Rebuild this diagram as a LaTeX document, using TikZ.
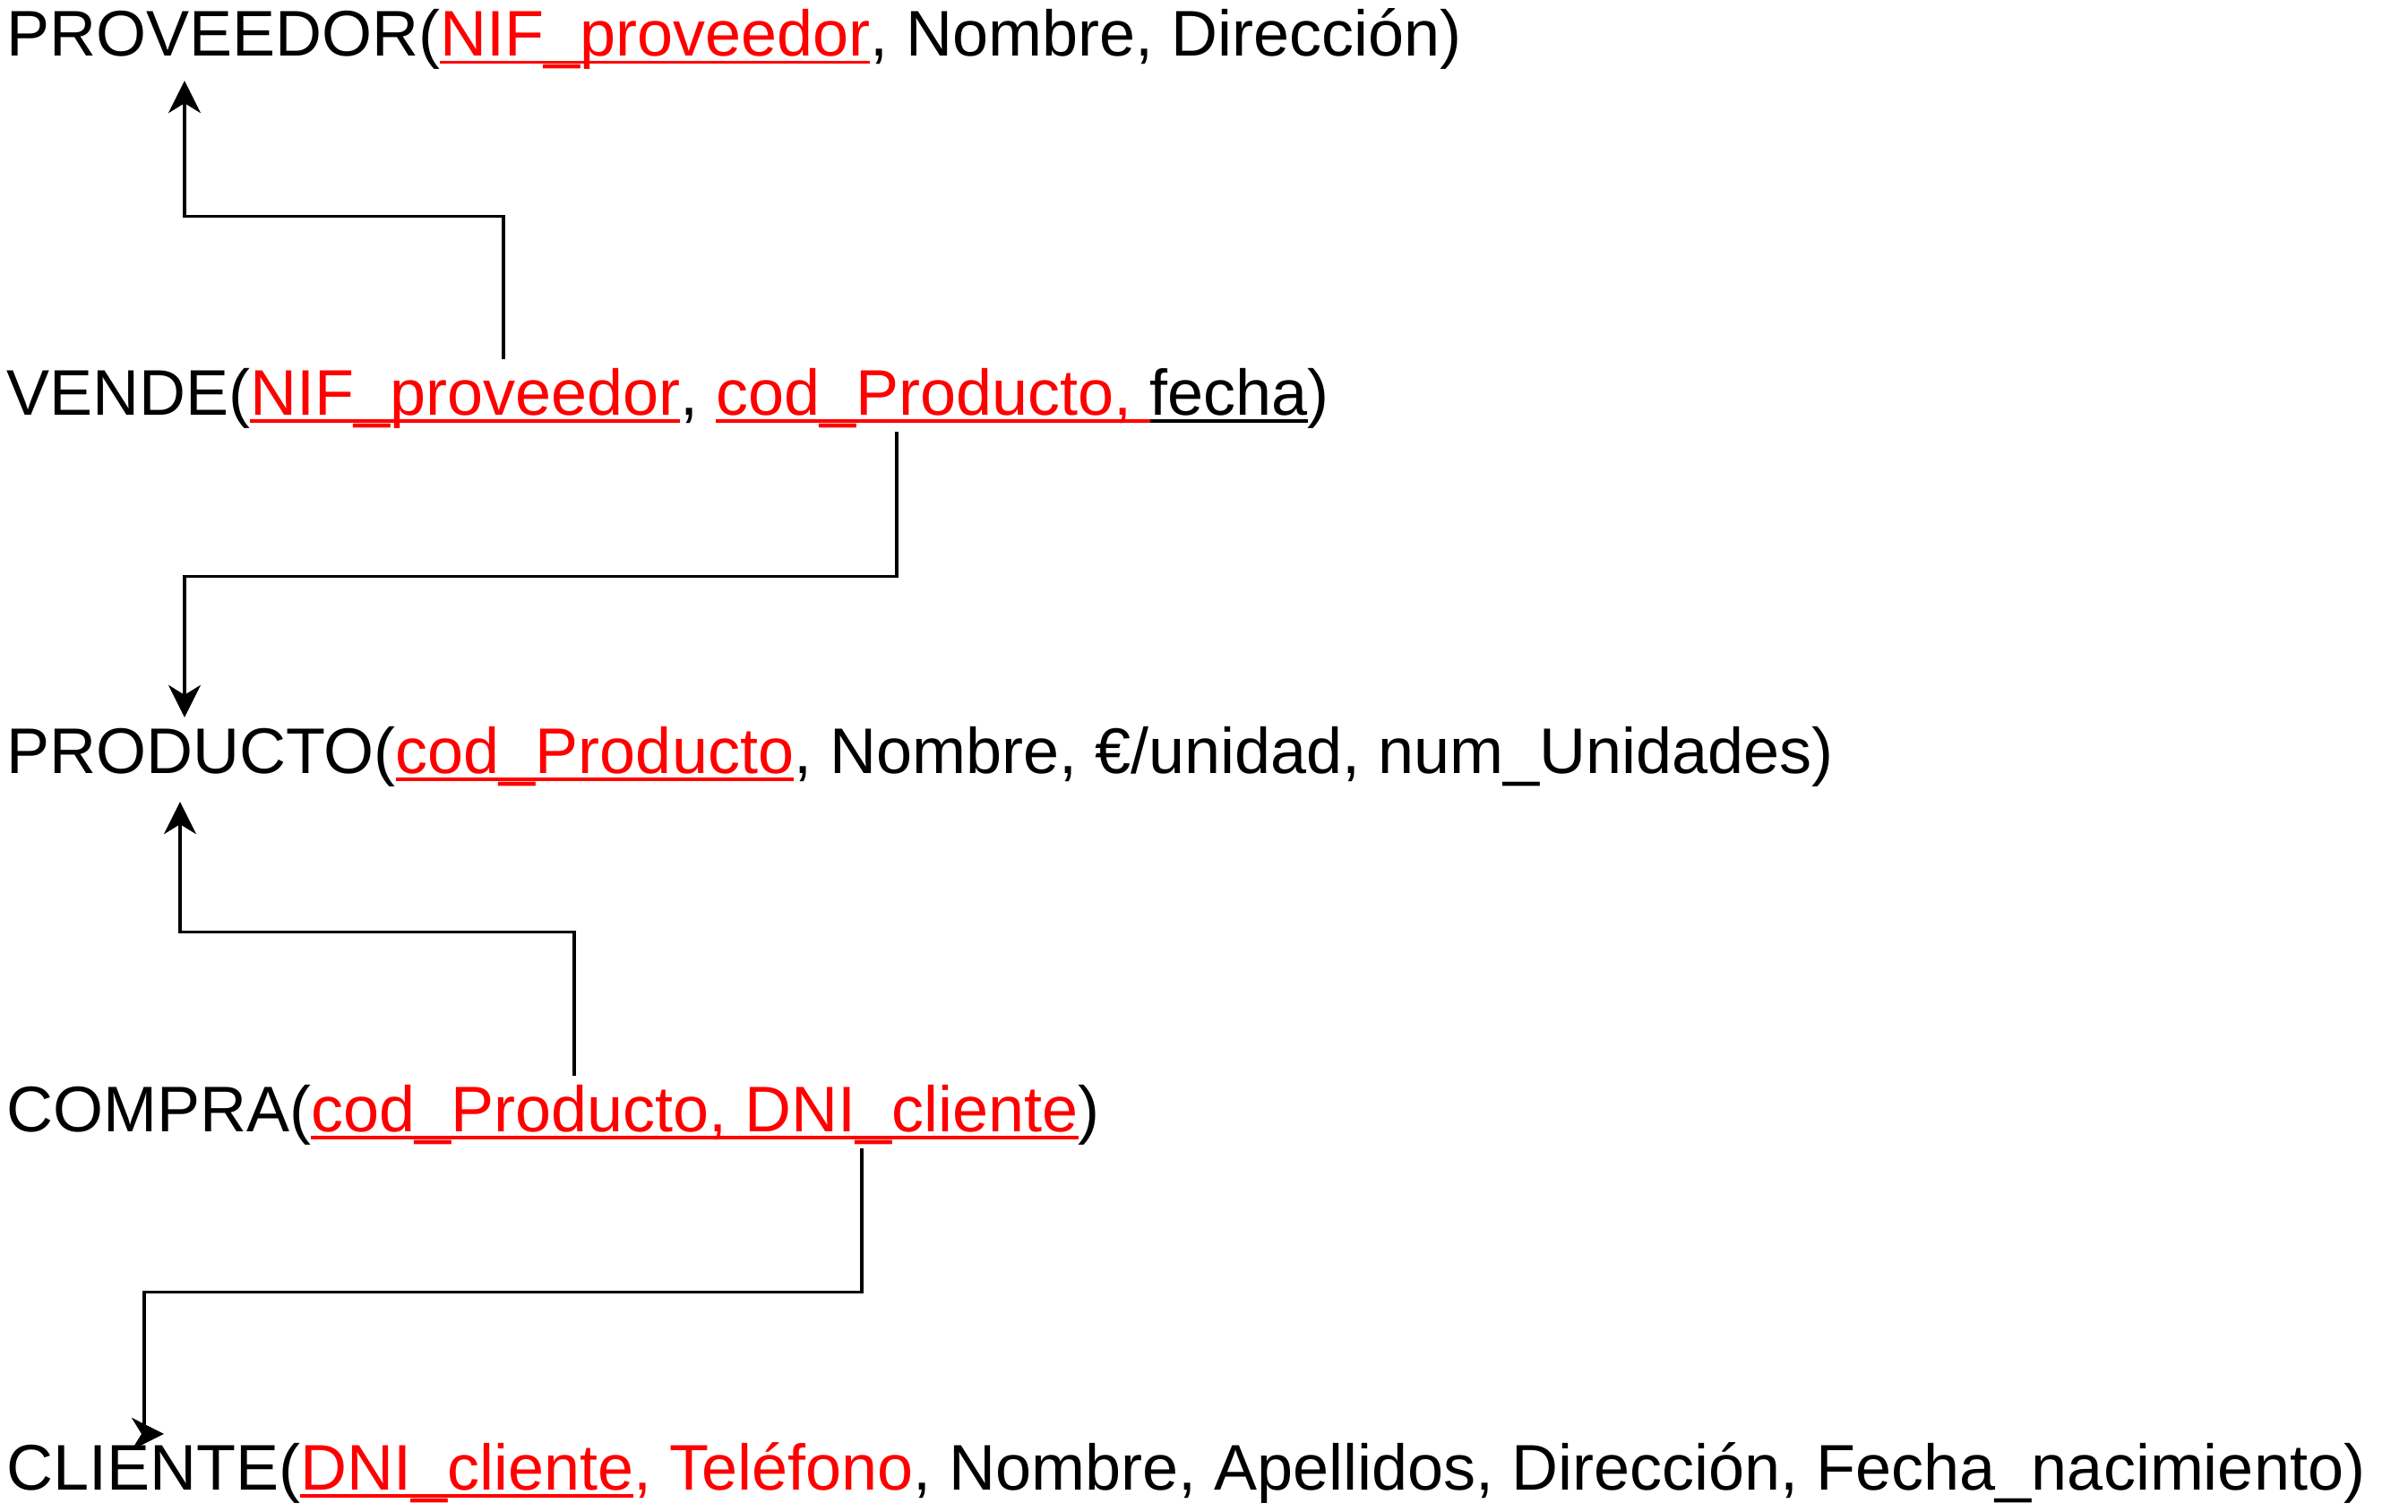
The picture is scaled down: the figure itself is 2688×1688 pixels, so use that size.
\documentclass[tikz,border=0pt]{standalone}
\usepackage{fontspec}
\setmainfont{Liberation Sans}
\usetikzlibrary{arrows.meta}
\newcommand\myul[1]{\setbox0\hbox{#1}\rlap{\rule[-8.5pt]{\wd0}{3.4pt}}\box0}
\begin{document}
\begin{tikzpicture}[x=1pt,y=-1pt,
  reltext/.style={anchor=base west, inner sep=0pt, text height=62pt, text depth=19pt, font=\fontsize{72}{86}\selectfont},
  conn/.style={line width=3.3pt, -{Stealth[length=36pt,width=36pt,inset=11pt]}}]
\useasboundingbox (0,0) rectangle (2688,1688);
\node[reltext] (prov) at (7,63) {PROVEEDOR(\textcolor{red}{\myul{NIF\_proveedor}}, Nombre, Dirección)};
\node[reltext] (vende) at (7,463) {VENDE(\textcolor{red}{\myul{NIF\_proveedor}}, \textcolor{red}{\myul{cod\_Producto, }}\myul{fecha})};
\node[reltext] (prod) at (7,863) {PRODUCTO(\textcolor{red}{\myul{cod\_Producto}}, Nombre, €/unidad, num\_Unidades)};
\node[reltext] (compra) at (7,1263) {COMPRA(\textcolor{red}{\myul{cod\_Producto, DNI\_cliente}})};
\node[reltext] (cliente) at (7,1663) {CLIENTE(\textcolor{red}{\myul{DNI\_cliente}, Teléfono}, Nombre, Apellidos, Dirección, Fecha\_nacimiento)};
\draw[conn] ([xshift=555pt]vende.north west) -- ++(0,-159) -| ([xshift=199pt,yshift=-8pt]prov.south west);
\draw[conn] ([xshift=994pt]vende.south west) -- ++(0,161) -| ([xshift=199pt]prod.north west);
\draw[conn] ([xshift=634pt]compra.north west) -- ++(0,-160) -| ([xshift=194pt,yshift=-13pt]prod.south west);
\draw[conn] ([xshift=955pt]compra.south west) -- ++(0,160) -| ([xshift=154pt]cliente.north west) -- ++(22,0);
\end{tikzpicture}
\end{document}
